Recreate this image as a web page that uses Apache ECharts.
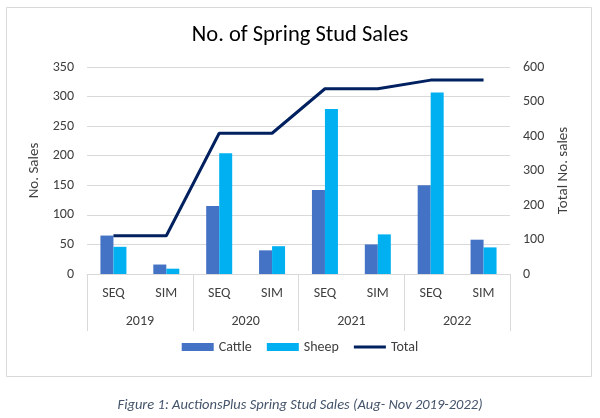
<!DOCTYPE html>
<html>
<head>
<meta charset="utf-8">
<script src="https://cdn.jsdelivr.net/npm/echarts@6/dist/echarts.min.js"></script>
<style>html,body{margin:0;padding:0;background:#fff;}#c{width:600px;height:418px;}</style>
</head>
<body>
<div id="c"></div>
<script>
var categories = ['SEQ','SIM','SEQ','SIM','SEQ','SIM','SEQ','SIM'];
var years = ['2019','2020','2021','2022'];
var cattle = [65, 16, 115, 40, 142, 50, 150, 58];
var sheep = [46, 9, 204, 47, 279, 67, 307, 45];
var total = [111, 111, 408, 408, 537, 537, 562, 562];

var FONT = "Carlito, Calibri, 'Liberation Sans', Arial, sans-serif";
var chart = echarts.init(document.getElementById('c'), null, {renderer:'canvas'});
chart.setOption({
  animation: false,
  textStyle: {fontFamily: FONT},
  title: [{
    text: 'No. of Spring Stud Sales', left: 'center', top: 19,
    textStyle: {fontFamily: FONT, fontSize: 22.5, fontWeight: 'normal', color: '#000'}
  }, {
    text: 'Figure 1: AuctionsPlus Spring Stud Sales (Aug- Nov 2019-2022)', left: 'center', top: 393,
    textStyle: {fontFamily: FONT, fontSize: 14.5, fontStyle: 'italic', fontWeight: 'normal', color: '#44546A'}
  }],
  graphic: [{
    type: 'rect', shape: {x: 6.5, y: 7.5, width: 585, height: 369},
    style: {fill: 'none', stroke: '#D9D9D9', lineWidth: 1}, z: -10
  }],
  legend: {
    bottom: 59, left: 'center', itemWidth: 32, itemHeight: 8, itemGap: 15,
    textStyle: {fontFamily: FONT, fontSize: 14, color: '#404040'},
    data: [{name:'Cattle', icon:'rect'}, {name:'Sheep', icon:'rect'},
           {name:'Total', icon:'path://M0,0L32,0L32,3L0,3Z'}]
  },
  grid: {left: 87, right: 90, top: 67, bottom: 144},
  xAxis: [{
    type: 'category', data: categories, position: 'bottom',
    axisLine: {lineStyle: {color: '#D9D9D9'}},
    axisTick: {show: false},
    axisLabel: {fontFamily: FONT, fontSize: 14, color: '#404040', margin: 12}
  }, {
    type: 'category', data: years, position: 'bottom',
    axisLine: {show: false},
    axisTick: {show: true, length: 57, lineStyle: {color: '#D9D9D9'}},
    axisLabel: {fontFamily: FONT, fontSize: 14, color: '#404040', margin: 40}
  }],
  yAxis: [{
    type: 'value', min: 0, max: 350, interval: 50,
    name: 'No. Sales', nameLocation: 'middle', nameGap: 42, nameRotate: 90,
    nameTextStyle: {fontFamily: FONT, fontSize: 15, color: '#404040'},
    axisLine: {show: false}, axisTick: {show: false},
    axisLabel: {fontFamily: FONT, fontSize: 14, color: '#404040', margin: 13},
    splitLine: {lineStyle: {color: '#D9D9D9'}}
  }, {
    type: 'value', min: 0, max: 600, interval: 100, position: 'right',
    name: 'Total No. sales', nameLocation: 'middle', nameGap: 46, nameRotate: 90,
    nameTextStyle: {fontFamily: FONT, fontSize: 15, color: '#404040'},
    axisLine: {show: false}, axisTick: {show: false},
    axisLabel: {fontFamily: FONT, fontSize: 14, color: '#404040', margin: 13},
    splitLine: {show: false}
  }],
  series: [{
    name: 'Cattle', type: 'bar', data: cattle, xAxisIndex: 0, yAxisIndex: 0,
    barWidth: 13, barGap: '0%', itemStyle: {color: '#4472C4'}
  }, {
    name: 'Sheep', type: 'bar', data: sheep, xAxisIndex: 0, yAxisIndex: 0,
    barWidth: 13, barGap: '0%', itemStyle: {color: '#00B0F0'}
  }, {
    name: 'Total', type: 'line', data: total, xAxisIndex: 0, yAxisIndex: 1,
    symbol: 'none', lineStyle: {color: '#002060', width: 3}, itemStyle: {color: '#002060'}
  }]
});
</script>
</body>
</html>
